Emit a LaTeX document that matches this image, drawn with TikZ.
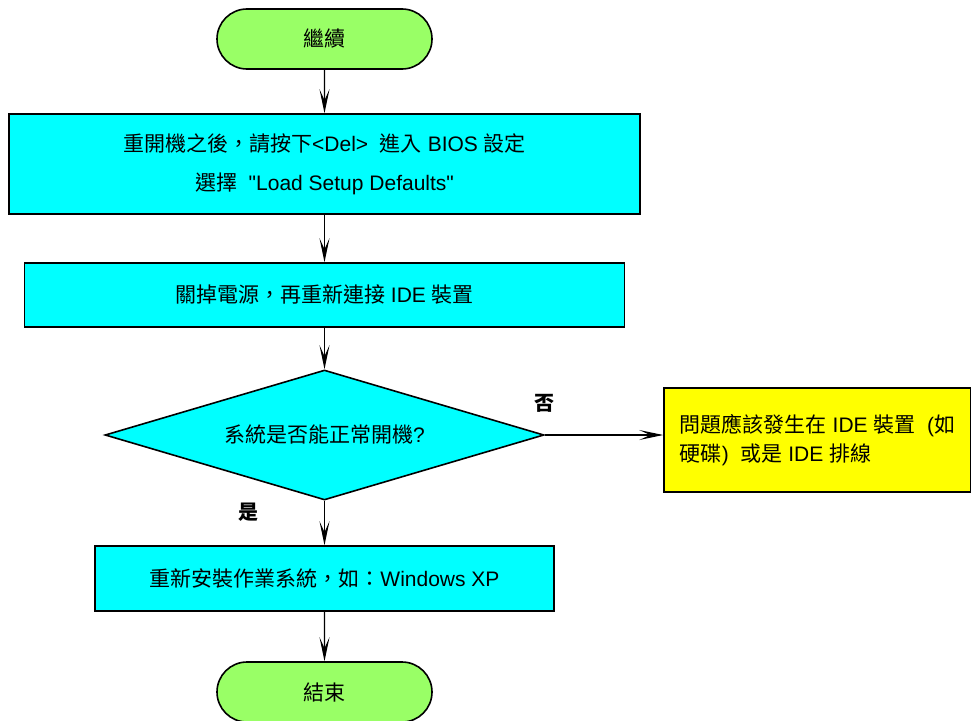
\documentclass[tikz,border=0pt]{standalone}
\usepackage{fontspec}
\setmainfont{Liberation Sans}[Ligatures=TeXOff]
\newfontfamily\cjk{Noto Sans CJK TC}
\usetikzlibrary{shapes.geometric,shapes.misc,arrows.meta}
\newcommand\zh[1]{{\cjk #1}}
\definecolor{boxcyan}{HTML}{00FFFF}
\definecolor{termgreen}{HTML}{99FF66}
\definecolor{noteyellow}{HTML}{FFFF00}
\tikzset{
  base/.style={draw=black, line width=1.6pt, text=black, font=\fontsize{21}{21}\selectfont, inner sep=0pt},
  term/.style={base, rounded rectangle, fill=termgreen, minimum width=215pt, minimum height=60pt},
  procbox/.style={base, rectangle, fill=boxcyan, align=center},
  decis/.style={base, diamond, fill=boxcyan, aspect=3.37, minimum width=439pt, minimum height=130pt},
  notebox/.style={base, rectangle, fill=noteyellow, align=left, minimum width=307pt, minimum height=104pt},
  flow/.style={line width=1.2pt, -{Stealth[length=24pt, width=10pt, inset=11pt]}},
  yn/.style={font=\fontsize{20}{20}\selectfont\cjk\bfseries, inner sep=0pt}
}
\begin{document}
\begin{tikzpicture}[x=1pt, y=-1pt]
\useasboundingbox (0,0) rectangle (971,720);
\node[term] (start) at (324.5,39) {\zh{繼續}};
\node[procbox, minimum width=631pt, minimum height=100pt, font=\fontsize{21}{39}\selectfont] (bios) at (324.5,164)
  {\zh{重開機之後，請按下}<Del>\ \ \zh{進入} BIOS \zh{設定}\\ \zh{選擇}\ \ "Load Setup Defaults"};
\node[procbox, minimum width=600pt, minimum height=64pt] (power) at (324.5,295) {\zh{關掉電源，再重新連接} IDE \zh{裝置}};
\node[decis] (ok) at (324.5,435) {\zh{系統是否能正常開機}?};
\node[procbox, minimum width=459pt, minimum height=65pt] (reinst) at (324.5,578.5) {\zh{重新安裝作業系統，如：}Windows XP};
\node[term] (stop) at (324.5,692) {\zh{結束}};
\node[notebox, font=\fontsize{21}{29}\selectfont] (note) at (817.5,440)
  {\zh{問題應該發生在} IDE \zh{裝置}\ \ (\zh{如}\\ \zh{硬碟}) \ \zh{或是} IDE \zh{排線}};
\node[yn] (no) at (544,403) {否};
\node[yn] (yes) at (248,512) {是};
\draw[flow] (start) -- (bios);
\draw[flow] (bios) -- (power);
\draw[flow] (power) -- (ok);
\draw[flow] (ok) -- (reinst);
\draw[flow] (reinst) -- (stop);
\draw[flow] (ok.east) -- (ok.east -| note.west);
\end{tikzpicture}
\end{document}
